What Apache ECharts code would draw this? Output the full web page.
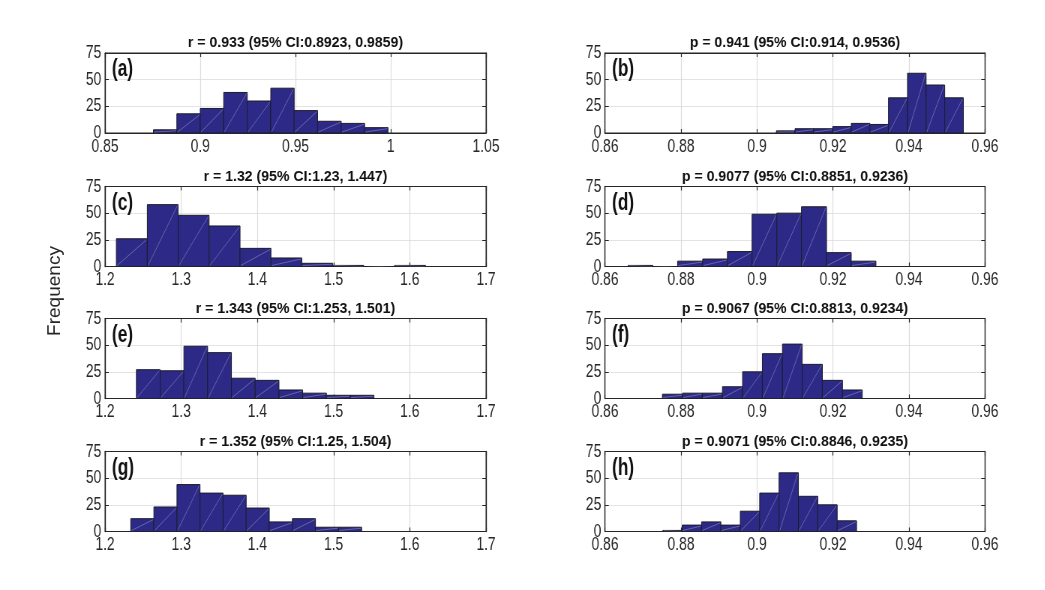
<!DOCTYPE html>
<html>
<head>
<meta charset="utf-8">
<script src="https://cdn.jsdelivr.net/npm/echarts@6/dist/echarts.min.js"></script>
<style>
html,body{margin:0;padding:0;background:#fff;overflow:hidden;width:1045px;height:590px}
#c{height:590px;transform-origin:0 0}
</style>
</head>
<body>
<div id="c"></div>
<script>
// Bin edges and counts per panel
const edgesA = [0.8754, 0.8877, 0.9000, 0.9123, 0.9247, 0.9370, 0.9493, 0.9616, 0.9740, 0.9863, 0.9986];
const countsA = [3, 18, 23, 38, 30, 42, 21, 11, 9, 5];
const edgesB = [0.9051, 0.9100, 0.9149, 0.9199, 0.9248, 0.9297, 0.9346, 0.9396, 0.9445, 0.9494, 0.9543];
const countsB = [2, 4, 4, 6, 9, 8, 33, 56, 45, 33];
const edgesC = [1.2149, 1.2555, 1.2960, 1.3366, 1.3772, 1.4178, 1.4583, 1.4989, 1.5395, 1.5800, 1.6206];
const countsC = [26, 58, 48, 38, 17, 8, 3, 1, 0, 1];
const edgesD = [0.8661, 0.8726, 0.8791, 0.8857, 0.8922, 0.8987, 0.9052, 0.9117, 0.9183, 0.9248, 0.9313];
const countsD = [1, 0, 5, 7, 14, 49, 50, 56, 13, 5];
const edgesE = [1.2412, 1.2724, 1.3035, 1.3347, 1.3659, 1.3971, 1.4283, 1.4594, 1.4906, 1.5218, 1.5530];
const countsE = [27, 26, 49, 43, 19, 17, 8, 5, 3, 3];
const edgesF = [0.8751, 0.8804, 0.8856, 0.8909, 0.8962, 0.9014, 0.9067, 0.9119, 0.9172, 0.9225, 0.9277];
const countsF = [4, 5, 5, 11, 25, 42, 51, 32, 17, 8];
const edgesG = [1.2338, 1.2641, 1.2944, 1.3247, 1.3550, 1.3853, 1.4156, 1.4459, 1.4762, 1.5065, 1.5368];
const countsG = [12, 23, 44, 36, 34, 22, 9, 12, 4, 4];
const edgesH = [0.8752, 0.8803, 0.8854, 0.8905, 0.8956, 0.9007, 0.9058, 0.9109, 0.9160, 0.9211, 0.9262];
const countsH = [1, 6, 9, 6, 19, 36, 55, 33, 25, 10];

const titles = [
  'r = 0.933 (95% CI:0.8923, 0.9859)',
  'p = 0.941 (95% CI:0.914, 0.9536)',
  'r = 1.32 (95% CI:1.23, 1.447)',
  'p = 0.9077 (95% CI:0.8851, 0.9236)',
  'r = 1.343 (95% CI:1.253, 1.501)',
  'p = 0.9067 (95% CI:0.8813, 0.9234)',
  'r = 1.352 (95% CI:1.25, 1.504)',
  'p = 0.9071 (95% CI:0.8846, 0.9235)'
];
const panelLabels = ['(a)', '(b)', '(c)', '(d)', '(e)', '(f)', '(g)', '(h)'];
const xRanges = [
  [0.85, 1.05, 0.05], [0.86, 0.96, 0.02],
  [1.2, 1.7, 0.1], [0.86, 0.96, 0.02],
  [1.2, 1.7, 0.1], [0.86, 0.96, 0.02],
  [1.2, 1.7, 0.1], [0.86, 0.96, 0.02]
];
const yTicks = [0, 25, 50, 75];
const yLabel = 'Frequency';

const panels = [
  [edgesA, countsA], [edgesB, countsB], [edgesC, countsC], [edgesD, countsD],
  [edgesE, countsE], [edgesF, countsF], [edgesG, countsG], [edgesH, countsH]
];

// horizontal compression of the whole figure (reference fonts look condensed)
const S = 0.75;
const el = document.getElementById('c');
el.style.width = (1045 / S) + 'px';
el.style.transform = 'scaleX(' + S + ')';

const tops = [53, 186.5, 318.5, 451.5];
const lefts = [105, 605];
const widths = [381, 380];
const H = 80;

const txt = '#262626';
const FF = '"Liberation Sans",Arial,Helvetica,sans-serif';
const tickFont = {color: txt, fontFamily: FF, fontSize: 18.5};

const grid = [], xAxis = [], yAxis = [], series = [], graphic = [];
panels.forEach((p, i) => {
  const col = i % 2, row = Math.floor(i / 2);
  const gl = lefts[col] / S, gt = tops[row], gw = widths[col] / S;
  grid.push({left: gl, top: gt, width: gw, height: H, show: true, borderColor: txt, borderWidth: 1, backgroundColor: 'transparent'});
  const [mn, mx, iv] = xRanges[i];
  const fmt = v => String(+v.toFixed(4));
  xAxis.push({
    type: 'value', gridIndex: i, min: mn, max: mx, interval: iv, position: 'bottom',
    axisLine: {show: true, onZero: false, lineStyle: {color: txt, width: 1}},
    axisTick: {show: true, inside: true, length: 4, lineStyle: {color: txt, width: 1.2}},
    axisLabel: Object.assign({margin: 4, formatter: fmt, showMinLabel: true, showMaxLabel: true}, tickFont),
    splitLine: {show: true, lineStyle: {color: '#dcdcdc', width: 1.2}}
  });
  xAxis.push({
    type: 'value', gridIndex: i, min: mn, max: mx, interval: iv, position: 'top',
    axisLine: {show: true, onZero: false, lineStyle: {color: txt, width: 1}},
    axisTick: {show: true, inside: true, length: 4, lineStyle: {color: txt, width: 1.2}},
    axisLabel: {show: false}, splitLine: {show: false}
  });
  yAxis.push({
    type: 'value', gridIndex: i, min: 0, max: yTicks[yTicks.length - 1], interval: yTicks[1] - yTicks[0], position: 'left',
    axisLine: {show: true, lineStyle: {color: txt, width: 1.3}},
    axisTick: {show: true, inside: true, length: 5, lineStyle: {color: txt}},
    axisLabel: Object.assign({margin: 5}, tickFont),
    splitLine: {show: true, lineStyle: {color: '#e3e3e3', width: 1}}
  });
  yAxis.push({
    type: 'value', gridIndex: i, min: 0, max: yTicks[yTicks.length - 1], interval: yTicks[1] - yTicks[0], position: 'right',
    axisLine: {show: true, lineStyle: {color: txt, width: 1.3}},
    axisTick: {show: true, inside: true, length: 5, lineStyle: {color: txt}},
    axisLabel: {show: false}, splitLine: {show: false}
  });
  const [edges, counts] = p;
  const data = counts.map((c, k) => [edges[k], edges[k + 1], c]);
  series.push({
    type: 'custom', xAxisIndex: 2 * i, yAxisIndex: 2 * i, data: data,
    encode: {x: [0, 1], y: 2}, clip: true, z: 5,
    renderItem: (params, api) => {
      const x0 = api.value(0), x1 = api.value(1), c = api.value(2);
      const a = api.coord([x0, c]), b = api.coord([x1, 0]);
      return {type: 'group', children: [
        {type: 'rect', shape: {x: a[0], y: a[1], width: b[0] - a[0], height: b[1] - a[1]},
         style: {fill: '#2d2a87', stroke: '#1c1c2a', lineWidth: 1}},
        {type: 'line', shape: {x1: a[0] + 1, y1: b[1] - 1, x2: b[0] - 1, y2: a[1] + 1},
         style: {stroke: 'rgba(255,255,255,0.35)', lineWidth: 0.8}}
      ]};
    }
  });
  graphic.push({type: 'text', x: gl + gw / 2, y: gt - 10, scaleX: 0.94 / S, style: {
    text: titles[i], align: 'center', verticalAlign: 'middle', fill: '#111',
    font: 'bold 15px ' + FF}});
  graphic.push({type: 'text', x: gl + 7 / S, y: gt + 17, z: 10, style: {
    text: panelLabels[i], align: 'left', verticalAlign: 'middle', fill: '#111',
    font: 'bold 23px ' + FF}});
});
graphic.push({type: 'text', x: 55 / S, y: 291, rotation: Math.PI / 2, scaleY: 0.92 / S, style: {
  text: yLabel, align: 'center', verticalAlign: 'middle', fill: txt,
  font: '19px ' + FF}});

const chart = echarts.init(el);
chart.setOption({animation: false, backgroundColor: '#fff', grid, xAxis, yAxis, series, graphic});
</script>
</body>
</html>
